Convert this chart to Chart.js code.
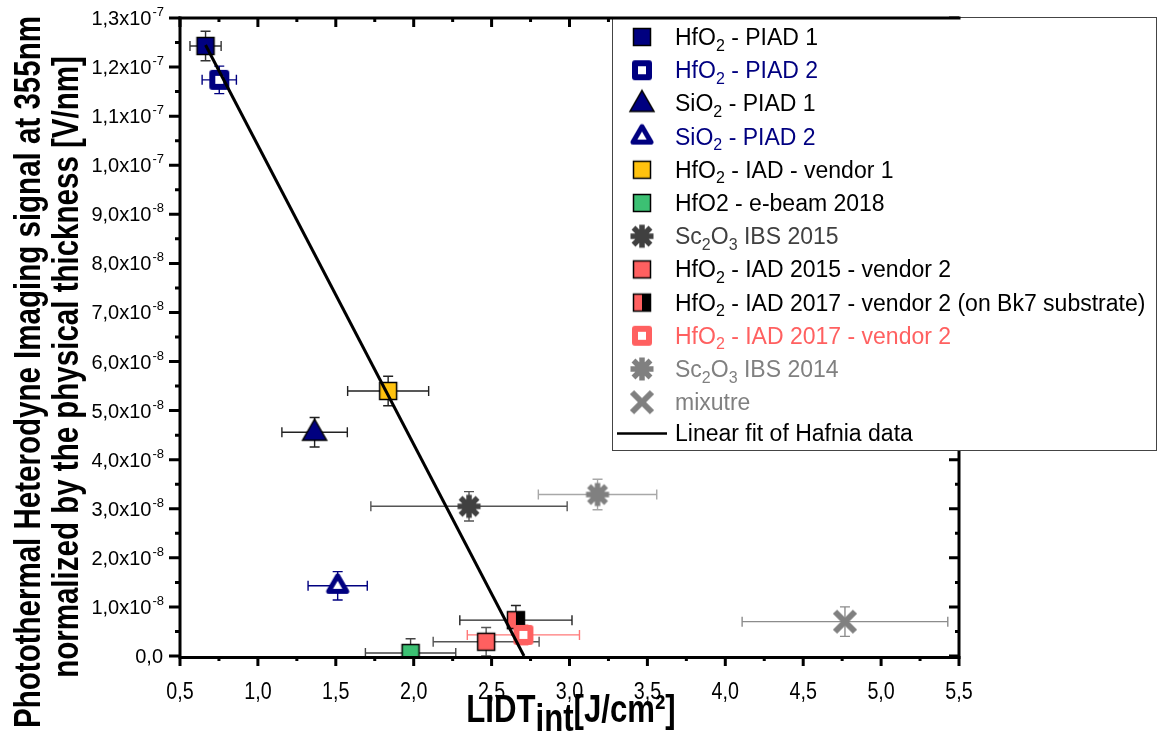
<!DOCTYPE html>
<html>
<head>
<meta charset="utf-8">
<script src="https://cdn.jsdelivr.net/npm/chart.js@4.4.0/dist/chart.umd.min.js"></script>
<style>
  html, body { margin: 0; padding: 0; background: #fff; }
</style>
</head>
<body>
<canvas id="lidtChart" width="1162" height="738"></canvas>
<script>
// series: LIDT_int [J/cm²] and PHI signal [V/nm]
var seriesLabels = ['HfO_2 - PIAD 1', 'HfO_2 - PIAD 2', 'SiO_2 - PIAD 1', 'SiO_2 - PIAD 2',
  'HfO_2 - IAD - vendor 1', 'HfO2 - e-beam 2018', 'Sc_2O_3 IBS 2015', 'HfO_2 - IAD 2015 - vendor 2',
  'HfO_2 - IAD 2017 - vendor 2 (on Bk7 substrate)', 'HfO_2 - IAD 2017 - vendor 2',
  'Sc_2O_3 IBS 2014', 'mixutre'];
var lidt =      [0.664, 0.752, 1.364, 1.512, 1.836, 1.980, 2.355, 2.465, 2.656, 2.704, 3.180, 4.768];
var lidtErr =   [0.10,  0.11,  0.21,  0.19,  0.26,  0.29,  0.63,  0.34,  0.36,  0.36,  0.38,  0.66];
var signal =    [12.43e-8, 11.74e-8, 4.56e-8, 1.43e-8, 5.40e-8, 0.06e-8, 3.05e-8, 0.29e-8, 0.73e-8, 0.43e-8, 3.29e-8, 0.70e-8];
var signalErr = [0.30e-8, 0.28e-8, 0.30e-8, 0.29e-8, 0.30e-8, 0.29e-8, 0.30e-8, 0.29e-8, 0.30e-8, 0.20e-8, 0.31e-8, 0.30e-8];

var fitLabel = 'Linear fit of Hafnia data';
var fitLidt = [0.664, 2.708];
var fitSignal = [12.45e-8, 0];

var xTicks = [0.5, 1.0, 1.5, 2.0, 2.5, 3.0, 3.5, 4.0, 4.5, 5.0, 5.5];
var xTickLabels = ['0,5', '1,0', '1,5', '2,0', '2,5', '3,0', '3,5', '4,0', '4,5', '5,0', '5,5'];
var yTicks = [0, 1e-8, 2e-8, 3e-8, 4e-8, 5e-8, 6e-8, 7e-8, 8e-8, 9e-8, 1.0e-7, 1.1e-7, 1.2e-7, 1.3e-7];
var yTickMant = ['0,0', '1,0x10', '2,0x10', '3,0x10', '4,0x10', '5,0x10', '6,0x10', '7,0x10', '8,0x10',
  '9,0x10', '1,0x10', '1,1x10', '1,2x10', '1,3x10'];
var yTickExp =  ['',    '-8',  '-8',  '-8',  '-8',  '-8',  '-8',  '-8',  '-8',  '-8',  '-7',  '-7',  '-7',  '-7'];

var navy = '#000080', salmon = '#FF6060';
var markerKind = ['square', 'openSquare', 'triangle', 'openTriangle', 'square', 'square', 'star',
  'square', 'half', 'openSquare', 'star', 'cross'];
var markerColor = [navy, navy, navy, navy, '#FFC20E', '#3CC073', '#404040', salmon, salmon, salmon, '#808080', '#808080'];
var errColor = ['#333', navy, '#222', navy, '#222', '#444', '#555', '#555', '#222', '#FF7878', '#A8A8A8', '#8C8C8C'];
var labelColor = ['#000', navy, '#000', navy, '#000', '#000', '#404040', '#000', '#000', salmon, '#808080', '#808080'];

var FONT = '"Liberation Sans", Arial, sans-serif';
var NARROW = 0.82;

function makeMarker(kind, fill) {
  var c = document.createElement('canvas');
  c.width = 32; c.height = 32;
  var g = c.getContext('2d');
  g.translate(16, 16);
  g.strokeStyle = '#000';
  g.lineWidth = 1.5;
  if (kind === 'square') {
    g.fillStyle = fill;
    g.fillRect(-8.5, -8.5, 17, 17);
    g.strokeRect(-8.5, -8.5, 17, 17);
  } else if (kind === 'half') {
    g.fillStyle = fill;
    g.fillRect(-8.5, -8.5, 8.5, 17);
    g.fillStyle = '#000';
    g.fillRect(0, -8.5, 8.5, 17);
    g.strokeRect(-8.5, -8.5, 17, 17);
  } else if (kind === 'openSquare') {
    g.lineWidth = 6;
    g.lineJoin = 'round';
    g.strokeStyle = fill;
    g.fillStyle = '#fff';
    g.beginPath();
    g.rect(-7, -7, 14, 14);
    g.fill();
    g.stroke();
  } else if (kind === 'triangle') {
    g.fillStyle = fill;
    g.beginPath();
    g.moveTo(0, -13); g.lineTo(12, 8); g.lineTo(-12, 8);
    g.closePath();
    g.fill();
    g.stroke();
  } else if (kind === 'openTriangle') {
    g.lineWidth = 5;
    g.lineJoin = 'round';
    g.strokeStyle = fill;
    g.fillStyle = '#fff';
    g.beginPath();
    g.moveTo(0, -10); g.lineTo(9, 5.5); g.lineTo(-9, 5.5);
    g.closePath();
    g.fill();
    g.stroke();
  } else if (kind === 'star') {
    g.strokeStyle = fill;
    g.lineWidth = 5.5;
    g.beginPath();
    g.moveTo(-11.5, 0); g.lineTo(11.5, 0);
    g.moveTo(0, -11.5); g.lineTo(0, 11.5);
    g.moveTo(-8.5, -8.5); g.lineTo(8.5, 8.5);
    g.moveTo(-8.5, 8.5); g.lineTo(8.5, -8.5);
    g.stroke();
  } else if (kind === 'cross') {
    g.strokeStyle = fill;
    g.lineWidth = 6;
    g.beginPath();
    g.moveTo(-10, -10); g.lineTo(10, 10);
    g.moveTo(-10, 10); g.lineTo(10, -10);
    g.stroke();
  }
  return c;
}

var markers = markerKind.map(function (k, i) { return makeMarker(k, markerColor[i]); });

// text with "_x" subscripts
function drawRich(ctx, text, x, baseline, size, color) {
  ctx.fillStyle = color;
  ctx.textAlign = 'left';
  ctx.textBaseline = 'alphabetic';
  var i = 0;
  while (i < text.length) {
    if (text[i] === '_') {
      ctx.font = Math.round(size * 0.68) + 'px ' + FONT;
      ctx.fillText(text[i + 1], x, baseline + size * 0.24);
      x += ctx.measureText(text[i + 1]).width;
      i += 2;
    } else {
      var j = text.indexOf('_', i);
      if (j < 0) j = text.length;
      var part = text.slice(i, j);
      ctx.font = size + 'px ' + FONT;
      ctx.fillText(part, x, baseline);
      x += ctx.measureText(part).width;
      i = j;
    }
  }
}

// squeezed text, like Arial Narrow
function narrowText(ctx, text, x, y) {
  ctx.save();
  ctx.translate(x, y);
  ctx.scale(NARROW, 1);
  ctx.fillText(text, 0, 0);
  ctx.restore();
  return ctx.measureText(text).width * NARROW;
}

var errorBars = {
  id: 'errorBars',
  beforeDatasetsDraw: function (chart) {
    var ctx = chart.ctx, a = chart.chartArea, xs = chart.scales.x, ys = chart.scales.y;
    ctx.save();
    ctx.beginPath();
    ctx.rect(a.left, a.top, a.right - a.left, a.bottom - a.top);
    ctx.clip();
    ctx.lineWidth = 1.4;
    for (var i = 0; i < lidt.length; i++) {
      var px = xs.getPixelForValue(lidt[i]), py = ys.getPixelForValue(signal[i]);
      var x1 = xs.getPixelForValue(lidt[i] - lidtErr[i]), x2 = xs.getPixelForValue(lidt[i] + lidtErr[i]);
      var y1 = ys.getPixelForValue(signal[i] - signalErr[i]), y2 = ys.getPixelForValue(signal[i] + signalErr[i]);
      ctx.strokeStyle = errColor[i];
      ctx.beginPath();
      ctx.moveTo(x1, py); ctx.lineTo(x2, py);
      ctx.moveTo(x1, py - 5); ctx.lineTo(x1, py + 5);
      ctx.moveTo(x2, py - 5); ctx.lineTo(x2, py + 5);
      ctx.moveTo(px, y1); ctx.lineTo(px, y2);
      ctx.moveTo(px - 5, y1); ctx.lineTo(px + 5, y1);
      ctx.moveTo(px - 5, y2); ctx.lineTo(px + 5, y2);
      ctx.stroke();
    }
    ctx.restore();
  }
};

var frameAndLegend = {
  id: 'frameAndLegend',
  afterDraw: function (chart) {
    var ctx = chart.ctx, a = chart.chartArea, xs = chart.scales.x, ys = chart.scales.y;
    ctx.save();
    ctx.strokeStyle = '#000';
    // ticks
    ctx.lineWidth = 3;
    for (var v = 0.5; v <= 5.5001; v += 0.25) {
      var px = xs.getPixelForValue(v);
      var major = Math.abs(v * 2 - Math.round(v * 2)) < 1e-6;
      var len = major ? 10 : 5;
      ctx.beginPath();
      ctx.moveTo(px, a.bottom); ctx.lineTo(px, a.bottom + len);
      ctx.moveTo(px, a.top); ctx.lineTo(px, a.top + len - 1);
      ctx.stroke();
    }
    for (var k = 0; k <= 26; k++) {
      var py = ys.getPixelForValue(k * 0.5e-8);
      var lenY = k % 2 === 0 ? 11 : 5;
      ctx.beginPath();
      ctx.moveTo(a.left, py); ctx.lineTo(a.left - lenY, py);
      ctx.moveTo(a.right, py); ctx.lineTo(a.right - lenY + 1, py);
      ctx.stroke();
    }
    ctx.beginPath();
    ctx.moveTo(a.left, a.top - 1.5); ctx.lineTo(a.left, a.bottom + 1.5);
    ctx.lineTo(a.right, a.bottom + 1.5); ctx.lineTo(a.right, a.top);
    ctx.stroke();

    // tick labels
    ctx.fillStyle = '#000';
    ctx.textBaseline = 'alphabetic';
    ctx.textAlign = 'center';
    ctx.font = '24px ' + FONT;
    xTicks.forEach(function (t, i) {
      narrowText(ctx, xTickLabels[i], xs.getPixelForValue(t), 699);
    });
    yTicks.forEach(function (t, i) {
      var py = ys.getPixelForValue(t);
      ctx.font = '20px ' + FONT;
      var w1 = ctx.measureText(yTickMant[i]).width;
      ctx.font = '13px ' + FONT;
      var w2 = ctx.measureText(yTickExp[i]).width;
      var x0 = a.left - 17 - w1 - w2;
      ctx.textAlign = 'left';
      ctx.font = '20px ' + FONT;
      ctx.fillText(yTickMant[i], x0, py + 7);
      ctx.font = '13px ' + FONT;
      ctx.fillText(yTickExp[i], x0 + w1 + 1, py - 2);
    });

    // axis titles
    ctx.font = 'bold 38px ' + FONT;
    ctx.textAlign = 'left';
    var wL = ctx.measureText('LIDT').width * NARROW, wI = ctx.measureText('int').width * NARROW,
      wU = ctx.measureText('[J/cm²]').width * NARROW;
    var tx = 571 - (wL + wI + wU) / 2;
    narrowText(ctx, 'LIDT', tx, 722);
    narrowText(ctx, 'int', tx + wL, 731);
    narrowText(ctx, '[J/cm²]', tx + wL + wI, 722);

    ctx.save();
    ctx.translate(30, 372);
    ctx.rotate(-Math.PI / 2);
    ctx.textAlign = 'center';
    ctx.textBaseline = 'middle';
    ctx.font = 'bold 36px ' + FONT;
    narrowText(ctx, 'Photothermal Heterodyne Imaging signal at 355nm', 0, 0);
    narrowText(ctx, 'normalized by the physical thickness [V/nm]', 5, 38);
    ctx.restore();

    // legend box
    var lx = 612, ly = 17, lr = 1156, lb = 450;
    ctx.fillStyle = '#fff';
    ctx.fillRect(lx, ly, lr - lx, lb - ly);
    ctx.lineWidth = 1;
    ctx.strokeStyle = '#444';
    ctx.strokeRect(lx + 0.5, ly + 0.5, lr - lx, lb - ly);
    var rowH = 33.2;
    for (var i = 0; i < seriesLabels.length; i++) {
      var ry = 37 + i * rowH;
      ctx.drawImage(markers[i], 642 - 16, ry - 16);
      drawRich(ctx, seriesLabels[i], 675, ry + 8, 23, labelColor[i]);
    }
    var fy = 37 + seriesLabels.length * rowH - 2;
    ctx.strokeStyle = '#000';
    ctx.lineWidth = 2.5;
    ctx.beginPath();
    ctx.moveTo(617, fy); ctx.lineTo(667, fy);
    ctx.stroke();
    drawRich(ctx, fitLabel, 675, fy + 8, 23, '#000');

    // top axis line over the legend border
    ctx.strokeStyle = '#000';
    ctx.lineWidth = 3;
    ctx.beginPath();
    ctx.moveTo(a.left - 1.5, a.top); ctx.lineTo(a.right + 1.5, a.top);
    ctx.stroke();
    ctx.restore();
  }
};

var datasets = [{
  label: fitLabel,
  data: fitLidt.map(function (x, i) { return { x: x, y: fitSignal[i] }; }),
  showLine: true,
  borderColor: '#000',
  borderWidth: 3,
  pointRadius: 0,
  order: 0
}];
seriesLabels.forEach(function (name, i) {
  datasets.push({
    label: name,
    data: [{ x: lidt[i], y: signal[i] }],
    pointStyle: markers[i],
    pointRadius: 12,
    clip: 0,
    order: 100 - i
  });
});

new Chart(document.getElementById('lidtChart').getContext('2d'), {
  type: 'scatter',
  data: { datasets: datasets },
  options: {
    responsive: false,
    devicePixelRatio: 1,
    animation: false,
    layout: { padding: { left: 180, right: 203, top: 18, bottom: 82 } },
    scales: {
      x: { type: 'linear', min: 0.5, max: 5.5, display: false },
      y: { type: 'linear', min: 0, max: 1.3e-7, display: false }
    },
    plugins: {
      legend: { display: false },
      tooltip: { enabled: false }
    }
  },
  plugins: [errorBars, frameAndLegend]
});
</script>
</body>
</html>
